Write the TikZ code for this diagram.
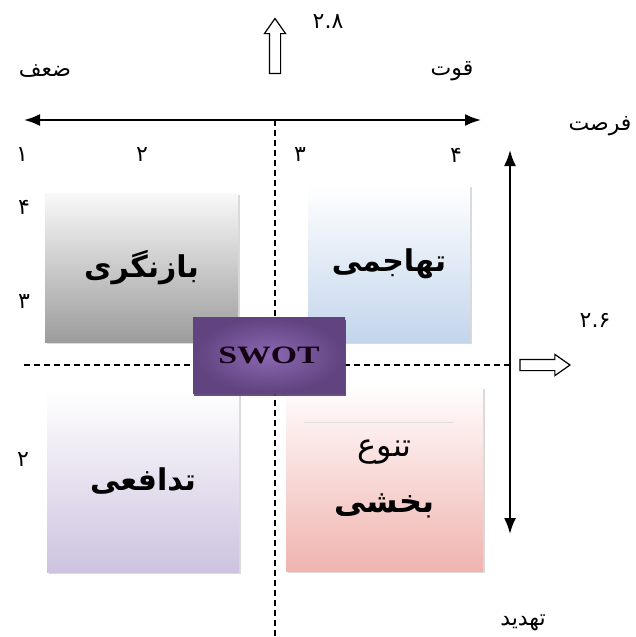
\documentclass[tikz,border=0pt]{standalone}
\usepackage{fontspec}
\usepackage{tikz}
\usetikzlibrary{arrows.meta,shapes.arrows,shadows,calc}
\TeXXeTstate=1
\newfontfamily\persianfont[Script=Arabic]{DejaVu Sans}
\newfontfamily\swotfont[FakeStretch=1.35]{Liberation Serif}
\newcommand{\fatext}[1]{{\persianfont\beginR #1\endR}}
\definecolor{grayend}{RGB}{156,156,156}
\definecolor{blueend}{RGB}{195,213,236}
\definecolor{lilacend}{RGB}{205,195,223}
\definecolor{pinkend}{RGB}{240,180,175}
\definecolor{swotlight}{RGB}{140,104,178}
\definecolor{swotdark}{RGB}{88,60,118}

\begin{document}
\begin{tikzpicture}[x=1pt,y=-1pt,
  every node/.style={font=\persianfont\fontsize{22}{24}\selectfont},
  quad/.style={inner sep=0pt, align=center,
    font=\persianfont\bfseries\fontsize{30}{36}\selectfont,
    drop shadow={shadow xshift=1.5pt, shadow yshift=-1.5pt, opacity=0.3}},
  axis/.style={{Latex[length=16pt,width=12pt]}-{Latex[length=16pt,width=12pt]}, line width=2pt},
  hollow/.style={single arrow, draw, fill=white, line width=1.2pt, inner sep=5pt,
    single arrow head extend=5pt, single arrow tip angle=70, single arrow head indent=0pt},
  divider/.style={dash pattern=on 6pt off 4pt, line width=1.3pt}
]
\useasboundingbox (0,0) rectangle (636,637);

% axes
\coordinate (hl) at (24,120);
\coordinate (hr) at (481,120);
\coordinate (vt) at (510,150);
\coordinate (vb) at (510,534);
\coordinate (dtop) at (275,120);
\coordinate (dbot) at (275,637);
\coordinate (dl) at (24,365);
\coordinate (dr) at (510,365);
\draw[divider] (dtop) -- (dbot);
\draw[divider] (dl) -- (dr);
\draw[axis] (hl) -- (hr);
\draw[axis] (vt) -- (vb);

% hollow arrows
\node[hollow, minimum height=55pt, shape border rotate=90] (upmark) at (275,50) {};
\node[hollow, minimum height=50pt] (rightmark) at (541,365) {};

% axis labels
\node (v28) at (328,22) {۲.۸};
\node (weak) at (45,71) {\fatext{ضعف}};
\node (strong) at (452,71) {\fatext{قوت}};
\node (opp) at (600,126) {\fatext{فرصت}};
\node (v26) at (595,320) {۲.۶};
\node (threat) at (523,623) {\fatext{تهدید}};

% scale numbers
\node (s1) at (22,155) {۱};
\node (s2) at (142,155) {۲};
\node (s3) at (300,155) {۳};
\node (s4) at (456,155) {۴};
\node (w4) at (24,207) {۴};
\node (w3) at (24,302) {۳};
\node (w2) at (23,460) {۲};

% strategy boxes
\node[quad, top color=white!95!gray, bottom color=grayend,
  minimum width=193pt, minimum height=149pt] (review) at (141.5,267.5) {\fatext{بازنگری}};
\node[quad, top color=white, bottom color=blueend,
  minimum width=162pt, minimum height=157pt] (attack) at (389,263.5) {\fatext{تهاجمی}};
\node[quad, top color=white, bottom color=lilacend,
  minimum width=192pt, minimum height=183pt] (defend) at (143,481) {\fatext{تدافعی}};
\node[quad, top color=white!97!pink, bottom color=pinkend,
  minimum width=197pt, minimum height=184pt, font=\persianfont\fontsize{32}{56}\selectfont] (diverse) at (384.5,479)
  {\fatext{تنوع}\\ \bfseries\fatext{بخشی}};
\draw[gray!25, line width=1.2pt] ($(diverse.north west)+(18,36)$) -- ($(diverse.north east)+(-29,36)$);

% centre
\node[inner sep=0pt, minimum width=152pt, minimum height=76pt,
  inner color=swotlight, outer color=swotdark!85!swotlight,
  drop shadow={shadow xshift=1pt, shadow yshift=-3pt, fill=swotdark, opacity=0.9},
  font=\swotfont\bfseries\fontsize{25}{28}\selectfont, text=black!85!violet] (swot) at (269,355) {SWOT};
\end{tikzpicture}
\end{document}
